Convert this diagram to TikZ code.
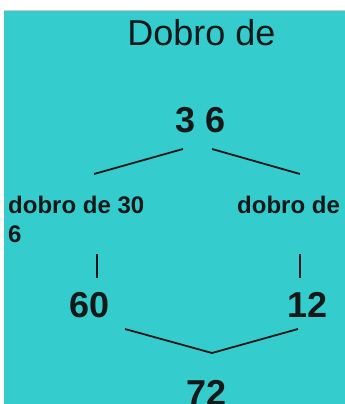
\documentclass[tikz,border=0pt]{standalone}
\usepackage{fontspec}
\setmainfont{Liberation Sans}
\definecolor{panel}{RGB}{52,204,204}
\definecolor{ink}{RGB}{20,24,24}
\begin{document}
\begin{tikzpicture}[x=1pt,y=-1pt,
  title/.style={inner sep=0, anchor=base, text=ink, font=\fontsize{36}{40}\selectfont},
  number/.style={inner sep=0, anchor=base, text=ink, font=\bfseries\fontsize{36}{40}\selectfont},
  label/.style={inner sep=0, text=ink, font=\bfseries\fontsize{24}{29}\selectfont},
  link/.style={draw=ink, line width=1.8pt}]
  % page and coloured panel
  \useasboundingbox (0,0) rectangle (345,404);
  \fill[white] (0,0) rectangle (345,404);
  \fill[panel] (4,10) rectangle (345,404);
  \draw[gray!40, line width=0.8pt] (4,10.4) -- (345,10.4);

  % texts
  \node[title]  (head)  at (201.5,46) {Dobro de};
  \node[number] (top)   at (201,132) {3 6};
  \node[label, anchor=north west, align=left] (left) at (8,196) {dobro de 30\\6};
  \node[label, anchor=base west] (right) at (237,213) {dobro de};
  \node[number] (sixty)  at (90,317) {60};
  \node[number] (twelve) at (308,317) {12};
  \node[number] (sum)    at (207,405) {72};

  % connector end points
  \coordinate (tl1) at (183,149);
  \coordinate (tl2) at (94,174);
  \coordinate (tr1) at (212,149);
  \coordinate (tr2) at (300,174);
  \coordinate (vl1) at (97,254);
  \coordinate (vl2) at (97,278);
  \coordinate (vr1) at (300,254);
  \coordinate (vr2) at (300,278);
  \coordinate (bl)  at (125,329);
  \coordinate (bm)  at (212,353);
  \coordinate (br)  at (298,329);

  % connectors
  \draw[link] (tl1) -- (tl2);
  \draw[link] (tr1) -- (tr2);
  \draw[link] (vl1) -- (vl2);
  \draw[link] (vr1) -- (vr2);
  \draw[link] (bl) -- (bm) -- (br);
\end{tikzpicture}
\end{document}
